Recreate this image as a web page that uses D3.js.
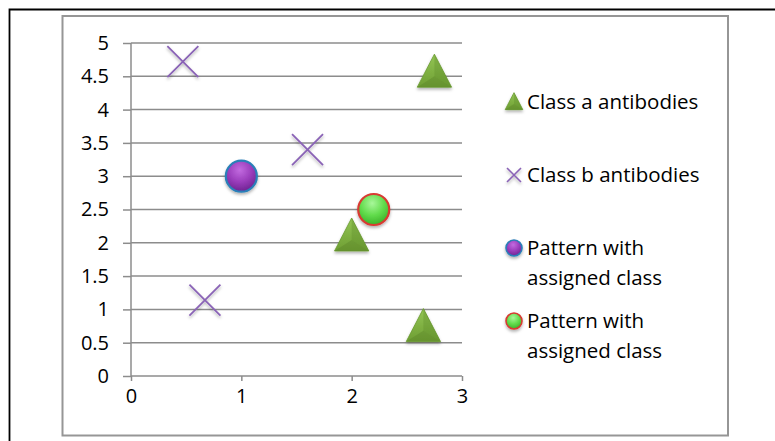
<!DOCTYPE html>
<html>
<head>
<meta charset="utf-8">
<script src="https://cdn.jsdelivr.net/npm/d3@7"></script>
<style>
  html, body { margin: 0; padding: 0; background: #fff; }
  text { font-family: "Open Sans", Lato, sans-serif; fill: #000; }
</style>
</head>
<body>
<div id="chart"></div>
<script>
// series data
const classA = [[2.75, 4.56], [2.0, 2.1], [2.65, 0.74]];
const classB = [[0.47, 4.72], [1.6, 3.4], [0.67, 1.14]];
const patternBlue = [[1.0, 3.0]];
const patternGreen = [[2.2, 2.5]];
const xTicks = [0, 1, 2, 3];
const yTicks = [0, 0.5, 1, 1.5, 2, 2.5, 3, 3.5, 4, 4.5, 5];
const legendItems = [
  { key: "a", lines: ["Class a antibodies"] },
  { key: "b", lines: ["Class b antibodies"] },
  { key: "blue", lines: ["Pattern with", "assigned class"] },
  { key: "green", lines: ["Pattern with", "assigned class"] }
];

const W = 775, H = 441;
const FONT = "'Open Sans', Lato, sans-serif";
const svg = d3.select("#chart").append("svg")
  .attr("width", W).attr("height", H);

const defs = svg.append("defs");
const rg1 = defs.append("radialGradient").attr("id", "gPurple")
  .attr("cx", "45%").attr("cy", "30%").attr("r", "70%");
rg1.append("stop").attr("offset", "0%").attr("stop-color", "#c26be0");
rg1.append("stop").attr("offset", "55%").attr("stop-color", "#9a3dbb");
rg1.append("stop").attr("offset", "100%").attr("stop-color", "#6f2392");
const rg2 = defs.append("radialGradient").attr("id", "gGreen")
  .attr("cx", "45%").attr("cy", "30%").attr("r", "70%");
rg2.append("stop").attr("offset", "0%").attr("stop-color", "#a8f79a");
rg2.append("stop").attr("offset", "55%").attr("stop-color", "#62dc4c");
rg2.append("stop").attr("offset", "100%").attr("stop-color", "#3bb22a");
const lg = defs.append("linearGradient").attr("id", "gTri")
  .attr("x1", "0").attr("y1", "0").attr("x2", "0").attr("y2", "1");
lg.append("stop").attr("offset", "0%").attr("stop-color", "#93c554");
lg.append("stop").attr("offset", "100%").attr("stop-color", "#6e9e33");
const sh = defs.append("filter").attr("id", "shadow")
  .attr("x", "-40%").attr("y", "-40%").attr("width", "180%").attr("height", "180%");
sh.append("feDropShadow").attr("dx", 0).attr("dy", 2).attr("stdDeviation", 1.6)
  .attr("flood-color", "#000").attr("flood-opacity", 0.3);

// outer black frame (top + left edges visible)
svg.append("path").attr("d", "M9.5,441 V9.5 H775")
  .attr("fill", "none").attr("stroke", "#000").attr("stroke-width", 1.8);
// chart area frame
svg.append("rect").attr("x", 62.5).attr("y", 16).attr("width", 665.5).attr("height", 419.5)
  .attr("fill", "#fff").attr("stroke", "#969696").attr("stroke-width", 2);

const x = d3.scaleLinear().domain([0, 3]).range([131, 462]);
const y = d3.scaleLinear().domain([0, 5]).range([376, 43]);

// gridlines
svg.append("g").selectAll("line").data(yTicks.filter(d => d > 0)).join("line")
  .attr("x1", x(0)).attr("x2", x(3))
  .attr("y1", d => y(d)).attr("y2", d => y(d))
  .attr("stroke", "#8c8c8c").attr("stroke-width", 1.5);

// axes
const yAxis = svg.append("g").attr("transform", `translate(${x(0)},0)`)
  .call(d3.axisLeft(y).tickValues(yTicks).tickSize(8).tickPadding(14)
    .tickFormat(d3.format("")));
const xAxis = svg.append("g").attr("transform", `translate(0,${y(0)})`)
  .call(d3.axisBottom(x).tickValues(xTicks).tickSize(5).tickPadding(8)
    .tickFormat(d3.format("")));
[yAxis, xAxis].forEach(g => {
  g.select(".domain").attr("stroke", "#8c8c8c").attr("stroke-width", 1.5);
  g.selectAll(".tick line").attr("stroke", "#8c8c8c").attr("stroke-width", 1.5);
  g.selectAll("text").attr("font-size", 20).attr("font-family", FONT)
    .attr("fill", "#000");
});
yAxis.select(".domain").attr("d", `M0,${y(0)}V${y(5)}`);
xAxis.select(".domain").attr("d", `M${x(0)},0H${x(3)}`);

// marker drawers
function triangle(g, s) {
  g.append("path")
    .attr("d", `M0,${-s * 0.55} L${s * 0.52},${s * 0.45} L${-s * 0.52},${s * 0.45} Z`)
    .attr("fill", "url(#gTri)").attr("stroke", "#6a9a30").attr("stroke-width", 0.8)
    .attr("filter", "url(#shadow)");
  g.append("path")
    .attr("d", `M0,${-s * 0.55} L${s * 0.52},${s * 0.45} L0,${s * 0.12} Z`)
    .attr("fill", "#5f8c2b").attr("opacity", 0.35);
  g.append("path")
    .attr("d", `M${s * 0.52},${s * 0.45} L${-s * 0.52},${s * 0.45} L0,${s * 0.12} Z`)
    .attr("fill", "#557f25").attr("opacity", 0.35);
}
function cross(g, s, w) {
  g.append("path")
    .attr("d", `M${-s / 2},${-s / 2}L${s / 2},${s / 2}M${s / 2},${-s / 2}L${-s / 2},${s / 2}`)
    .attr("stroke", "#8a63b6").attr("stroke-width", w).attr("fill", "none")
    .attr("filter", "url(#shadow)");
}
function ball(g, r, fill, stroke, w) {
  g.append("circle").attr("r", r).attr("fill", fill)
    .attr("stroke", stroke).attr("stroke-width", w).attr("filter", "url(#shadow)");
}

const plot = svg.append("g");
plot.selectAll(".ma").data(classA).join("g").attr("class", "ma")
  .attr("transform", d => `translate(${x(d[0])},${y(d[1])})`)
  .each(function () { triangle(d3.select(this), 33); });
plot.selectAll(".mb").data(classB).join("g").attr("class", "mb")
  .attr("transform", d => `translate(${x(d[0])},${y(d[1])})`)
  .each(function () { cross(d3.select(this), 31, 1.8); });
plot.selectAll(".mp").data(patternBlue).join("g").attr("class", "mp")
  .attr("transform", d => `translate(${x(d[0])},${y(d[1])})`)
  .each(function () { ball(d3.select(this), 15.5, "url(#gPurple)", "#2a7fb8", 2.2); });
plot.selectAll(".mg").data(patternGreen).join("g").attr("class", "mg")
  .attr("transform", d => `translate(${x(d[0])},${y(d[1])})`)
  .each(function () { ball(d3.select(this), 15.5, "url(#gGreen)", "#d83a32", 2.2); });

// legend
const legY = [102, 175, 248, 321];
const leg = svg.append("g").selectAll("g").data(legendItems).join("g")
  .attr("transform", (d, i) => `translate(514,${legY[i]})`);
leg.each(function (d) {
  const g = d3.select(this);
  if (d.key === "a") triangle(g, 17);
  if (d.key === "b") cross(g, 14, 1.6);
  if (d.key === "blue") ball(g, 8, "url(#gPurple)", "#2a7fb8", 1.6);
  if (d.key === "green") ball(g, 8, "url(#gGreen)", "#d83a32", 1.6);
  g.selectAll("text").data(d.lines).join("text")
    .attr("x", 13).attr("y", (t, j) => j * 30)
    .attr("dy", "0.35em").attr("font-size", 20.5).attr("font-family", FONT)
    .text(t => t);
});
</script>
</body>
</html>
